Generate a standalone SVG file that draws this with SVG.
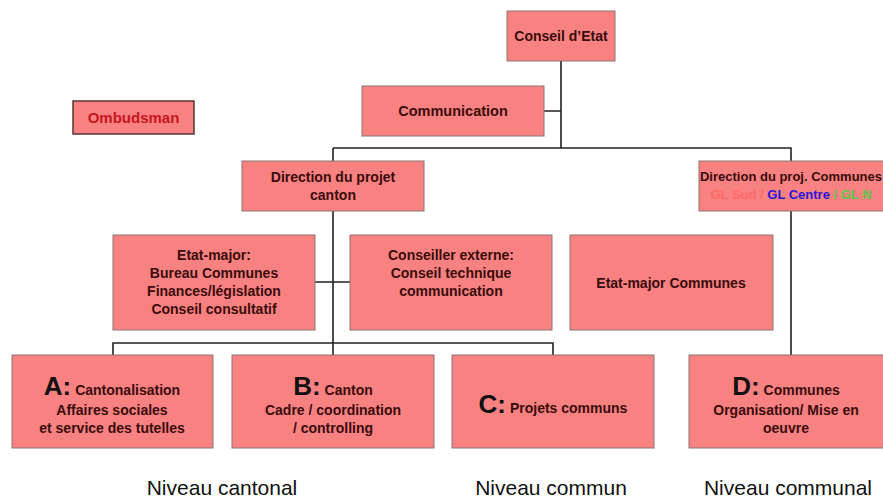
<svg xmlns="http://www.w3.org/2000/svg" width="883" height="502" viewBox="0 0 883 502">
<style>
.box{fill:#f88181;stroke:#8e7272;stroke-width:1}
.t{font-family:"Liberation Sans",Arial,sans-serif;font-weight:bold;font-size:14px;fill:#3a0c0c;text-anchor:middle}
.big{font-size:26px;fill:#111}
.lbl{font-family:"Liberation Sans",Arial,sans-serif;font-size:21px;fill:#111;text-anchor:middle}
.c{fill:none;stroke:#222;stroke-width:1.6}
</style>
<rect width="883" height="502" fill="#fff"/>
<g id="connectors">
<path class="c" d="M561 61V148M544 111H561M333 148H791V161M333 148V161M333 211V355M315 282H350M113 355V343H553V355M791 211V355"/>
</g>
<g id="conseil"><rect class="box" x="507" y="11" width="108" height="50"/><text class="t" x="561" y="41">Conseil d’Etat</text></g>
<g id="communication"><rect class="box" x="362" y="86" width="182" height="50"/><text class="t" x="453" y="116" style="font-size:14.5px">Communication</text></g>
<g id="ombudsman"><rect x="73" y="101" width="121" height="33" fill="#f88181" stroke="#5a3434" stroke-width="1.5"/><text class="t" x="133.5" y="123" style="fill:#c8161e;font-size:15px">Ombudsman</text></g>
<g id="dir-canton"><rect class="box" x="242" y="161" width="182" height="50"/><text class="t" x="333" y="182">Direction du projet</text><text class="t" x="333" y="200">canton</text></g>
<g id="dir-communes"><rect class="box" x="699" y="161" width="190" height="50"/><text class="t" x="791" y="181" style="font-size:13px">Direction du proj. Communes</text><text class="t" x="791" y="199" style="font-size:13px"><tspan fill="#ff6a6a">GL Sud / </tspan><tspan fill="#2a16d8">GL Centre</tspan><tspan fill="#5ac84a"> / GL N</tspan></text></g>
<g id="etat-major"><rect class="box" x="113" y="235" width="202" height="95"/><text class="t" x="214" y="260">Etat-major:</text><text class="t" x="214" y="278">Bureau Communes</text><text class="t" x="214" y="296">Finances/législation</text><text class="t" x="214" y="314">Conseil consultatif</text></g>
<g id="conseiller"><rect class="box" x="350" y="235" width="202" height="95"/><text class="t" x="451" y="260">Conseiller externe:</text><text class="t" x="451" y="278">Conseil technique</text><text class="t" x="451" y="296">communication</text></g>
<g id="etat-major-communes"><rect class="box" x="570" y="235" width="203" height="95"/><text class="t" x="671" y="288">Etat-major Communes</text></g>
<g id="A"><rect class="box" x="12" y="355" width="201" height="93"/><text class="t" x="112" y="395"><tspan class="big">A:</tspan> Cantonalisation</text><text class="t" x="112" y="415">Affaires sociales</text><text class="t" x="112" y="433">et service des tutelles</text></g>
<g id="B"><rect class="box" x="232" y="355" width="202" height="93"/><text class="t" x="333" y="395"><tspan class="big">B:</tspan> Canton</text><text class="t" x="333" y="415">Cadre / coordination</text><text class="t" x="333" y="433">/ controlling</text></g>
<g id="C"><rect class="box" x="452" y="355" width="202" height="93"/><text class="t" x="553" y="413"><tspan class="big">C:</tspan> Projets communs</text></g>
<g id="D"><rect class="box" x="689" y="355" width="200" height="93"/><text class="t" x="786" y="395"><tspan class="big">D:</tspan> Communes</text><text class="t" x="786" y="415">Organisation/ Mise en</text><text class="t" x="786" y="433">oeuvre</text></g>
<g id="labels"><text class="lbl" x="222" y="495">Niveau cantonal</text><text class="lbl" x="551" y="495">Niveau commun</text><text class="lbl" x="788" y="495">Niveau communal</text></g>
</svg>
